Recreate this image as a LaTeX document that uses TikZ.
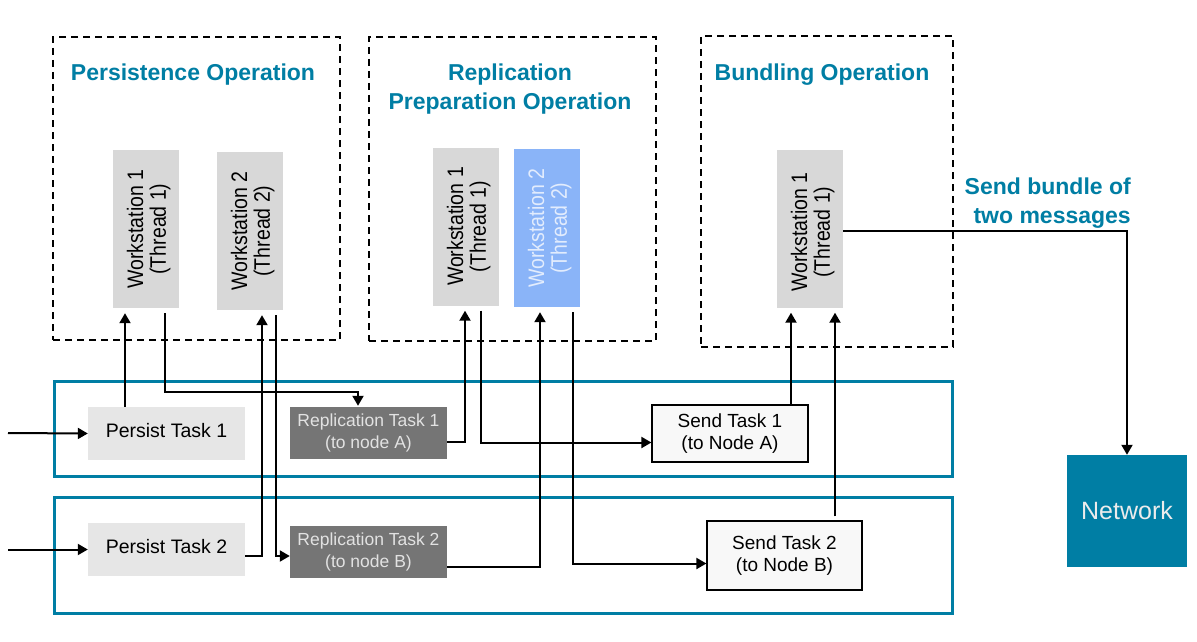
\documentclass[tikz,border=0pt]{standalone}
\usepackage{fontspec}
\usepackage{graphicx}
\setmainfont{Liberation Sans}
\usetikzlibrary{arrows.meta}
\definecolor{brandteal}{RGB}{0,126,164}
\definecolor{wsgray}{RGB}{216,216,216}
\definecolor{wsblue}{RGB}{138,180,248}
\definecolor{wsbluetext}{RGB}{226,236,253}
\definecolor{persistgray}{RGB}{230,230,230}
\definecolor{repgray}{RGB}{117,117,117}
\definecolor{reptext}{RGB}{226,226,226}
\definecolor{sendfill}{RGB}{248,248,248}
\definecolor{nettext}{RGB}{236,236,236}
\tikzset{
  opbox/.style={draw=black, line width=1.1pt, dash pattern=on 7pt off 5pt, inner sep=0pt},
  optitle/.style={text=brandteal, font=\fontsize{23}{28.5}\selectfont\bfseries, align=center, inner sep=0pt},
  rowbox/.style={draw=brandteal, line width=3pt, inner sep=0pt, minimum width=898pt},
  wsbox/.style={fill=wsgray, minimum width=66pt, minimum height=158pt, inner sep=0pt, font=\fontsize{19.5}{18.5}\selectfont},
  wsbluebox/.style={wsbox, fill=wsblue, text=wsbluetext},
  persistbox/.style={fill=persistgray, minimum width=157pt, minimum height=53pt, inner sep=0pt, text depth=7pt, font=\fontsize{19.5}{23}\selectfont},
  repbox/.style={fill=repgray, text=reptext, minimum width=157pt, minimum height=52pt, inner sep=0pt, align=center, font=\fontsize{17.5}{21.5}\selectfont},
  sendbox/.style={draw=black, line width=1.2pt, fill=sendfill, inner sep=0pt, align=center, font=\fontsize{19}{22.5}\selectfont},
  netbox/.style={fill=brandteal, text=nettext, minimum width=120pt, minimum height=112pt, inner sep=0pt, font=\fontsize{25}{30}\selectfont},
  arr/.style={draw=black, line width=2pt, -{Triangle[length=10pt,width=11pt]}}
}
\newcommand{\wstext}[2]{\hspace*{7pt}\rotatebox{90}{\scalebox{1}[1.15]{\begin{tabular}{@{}c@{}}#1\\#2\end{tabular}}}}
\begin{document}
\begin{tikzpicture}[x=1pt,y=-1pt]
\useasboundingbox[fill=white] (0,0) rectangle (1197,642);

% operation boxes
\node[opbox, minimum width=287pt, minimum height=303pt] (op1) at (196.5,188.5) {};
\node[opbox, minimum width=287pt, minimum height=304pt] (op2) at (512.5,189) {};
\node[opbox, minimum width=252pt, minimum height=311pt] (op3) at (827,191.5) {};
\node[optitle] (t1) at (193,75) {Persistence Operation};
\node[optitle] (t2) at (510,89) {Replication\\Preparation Operation};
\node[optitle] (t3) at (822,75) {Bundling Operation};

% rows
\node[rowbox, minimum height=95pt] (row1) at (503,428.5) {};
\node[rowbox, minimum height=116pt] (row2) at (503,555) {};

% workstations
\node[wsbox] (ws1a) at (146,229) {\wstext{Workstation 1}{(Thread 1)}};
\node[wsbox] (ws2a) at (250,231) {\wstext{Workstation 2}{(Thread 2)}};
\node[wsbox] (ws1b) at (466,226.5) {\wstext{Workstation 1}{(Thread 1)}};
\node[wsbluebox] (ws2b) at (547,228) {\wstext{Workstation 2}{(Thread 2)}};
\node[wsbox, text height=126pt] (ws1c) at (810,228.5) {\wstext{Workstation 1}{(Thread 1)}};

% tasks
\node[persistbox] (p1) at (166.5,433.5) {Persist Task 1};
\node[persistbox] (p2) at (166.5,549.5) {Persist Task 2};
\node[repbox] (r1) at (368.5,433) {Replication Task 1\\(to node A)};
\node[repbox] (r2) at (368.5,552) {Replication Task 2\\(to node B)};
\node[sendbox, minimum width=156pt, minimum height=57pt] (s1) at (730,433.5) {Send Task 1\\(to Node A)};
\node[sendbox, minimum width=155pt, minimum height=69pt] (s2) at (784.5,555.5) {Send Task 2\\(to Node B)};
\node[netbox] (net) at (1127,511) {Network};
\node[optitle, anchor=east, align=right] (bundle) at (1131,203) {Send bundle of\\two messages};

\coordinate (in1) at (8,433);
\coordinate (in2) at (8,549.5);

% connectors
\draw[arr] (in1) -- (p1.west);
\draw[arr] (in2) -- (p2.west);
\draw[arr, shorten >=5pt] ([xshift=-41.5pt]p1.north) -- ([xshift=-21pt]ws1a.south);
\draw[arr, shorten <=5pt, shorten >=1pt] ([xshift=19pt]ws1a.south) |- ([xshift=-10.5pt,yshift=15pt]r1.north) -- ([xshift=-10.5pt]r1.north);
\draw[arr, shorten >=5pt] ([yshift=-6.5pt]p2.east) -| ([xshift=12pt]ws2a.south);
\draw[arr, shorten <=5pt] ([xshift=26pt]ws2a.south) |- ([yshift=-4pt]r2.west);
\draw[arr, shorten >=5pt] ([yshift=-9pt]r1.east) -| ([xshift=-1pt]ws1b.south);
\draw[arr, shorten <=5pt] ([xshift=15pt]ws1b.south) |- ([yshift=-9pt]s1.west);
\draw[arr, shorten >=5pt] ([yshift=-15pt]r2.east) -| ([xshift=-7pt]ws2b.south);
\draw[arr, shorten <=5pt] ([xshift=26pt]ws2b.south) |- ([yshift=-8pt]s2.west);
\draw[arr, shorten >=5pt] ([xshift=61pt]s1.north) -- ([xshift=-19pt]ws1c.south);
\draw[arr, shorten <=4pt, shorten >=5pt] ([xshift=50.5pt]s2.north) -- ([xshift=25pt]ws1c.south);
\draw[arr] ([yshift=-2.5pt]ws1c.east) -| (net.north);
\end{tikzpicture}
\end{document}
